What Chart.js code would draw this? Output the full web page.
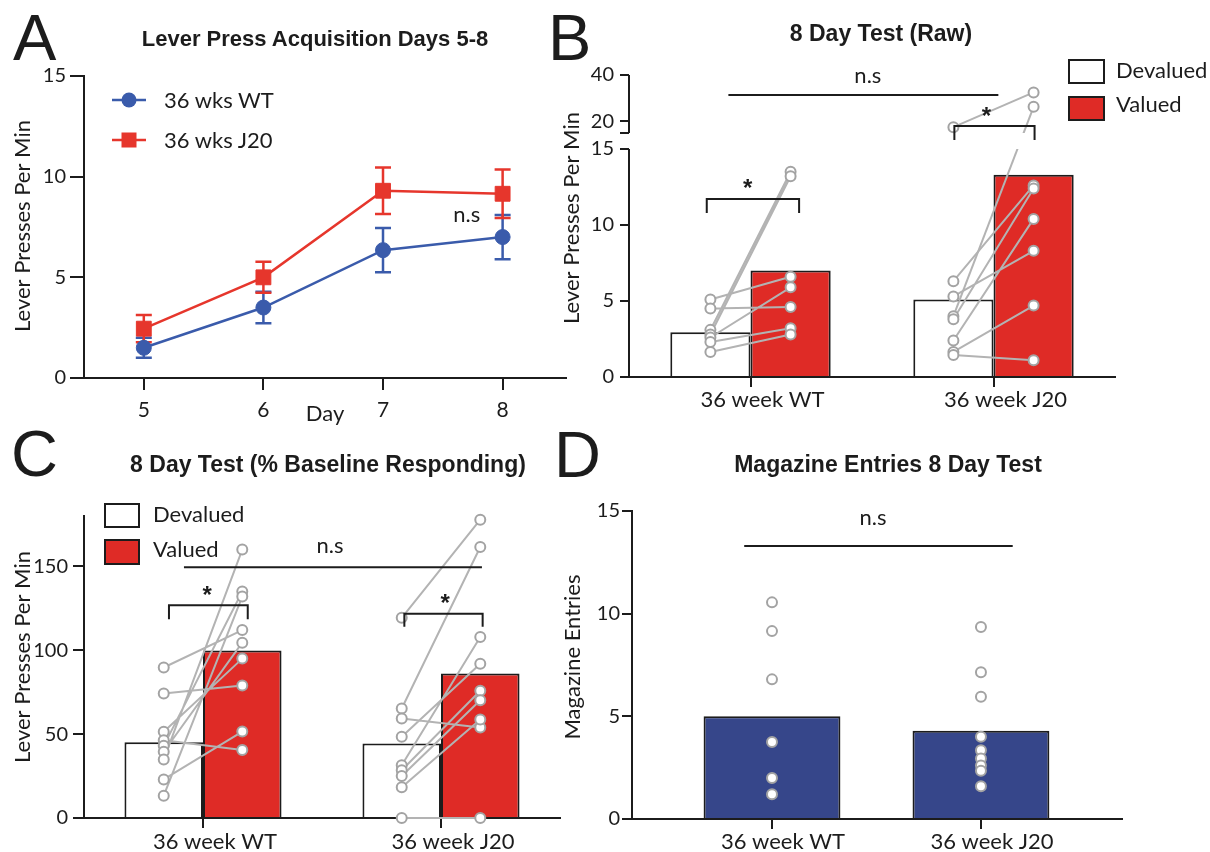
<!DOCTYPE html>
<html>
<head>
<meta charset="utf-8">
<title>Lever press figure</title>
<script src="https://cdn.jsdelivr.net/npm/chart.js@4.4.1/dist/chart.umd.min.js"></script>
<style>
  html, body { margin:0; padding:0; background:#ffffff; }
  #fig { position:relative; width:1210px; height:852px; overflow:hidden; background:#fff; }
  #fig canvas { position:absolute; left:0; top:0; }
  .t { position:absolute; white-space:nowrap; color:#1c1c1c; }
  .letter { font-family:"Liberation Sans", Arial, sans-serif; font-size:65px; line-height:65px; }
  .title { font-family:"Liberation Sans", Arial, sans-serif; font-weight:bold; transform:translateX(-50%); }
  .leg { font-family:Lato, sans-serif; font-size:22px; line-height:22px; }
  .box { position:absolute; box-sizing:border-box; border:2px solid #1c1c1c; }
</style>
</head>
<body>
<div id="fig">
  <canvas id="chartA" width="1210" height="852"></canvas>
  <canvas id="chartB" width="1210" height="852"></canvas>
  <canvas id="chartC" width="1210" height="852"></canvas>
  <canvas id="chartD" width="1210" height="852"></canvas>

  <div class="t letter" style="left:13px;top:5px">A</div>
  <div class="t letter" style="left:548px;top:5px">B</div>
  <div class="t letter" style="left:11px;top:421px">C</div>
  <div class="t letter" style="left:554px;top:422px">D</div>

  <div class="t title" style="left:315px;top:28px;font-size:22px;line-height:22px">Lever Press Acquisition Days 5-8</div>
  <div class="t title" style="left:881px;top:22px;font-size:23px;line-height:23px">8 Day Test (Raw)</div>
  <div class="t title" style="left:328px;top:453px;font-size:23px;line-height:23px">8 Day Test (% Baseline Responding)</div>
  <div class="t title" style="left:888px;top:453px;font-size:23px;line-height:23px">Magazine Entries 8 Day Test</div>

  <!-- legend A -->
  <svg style="position:absolute;left:110px;top:88px" width="40" height="64">
    <line x1="2" y1="12" x2="36" y2="12" stroke="#3a5bab" stroke-width="2.5"/>
    <circle cx="19" cy="12" r="7.5" fill="#3a5bab"/>
    <line x1="2" y1="52" x2="36" y2="52" stroke="#e6362c" stroke-width="2.5"/>
    <rect x="11.5" y="44.5" width="15" height="15" fill="#e6362c"/>
  </svg>
  <div class="t leg" style="left:164px;top:89px">36 wks WT</div>
  <div class="t leg" style="left:164px;top:129px">36 wks J20</div>

  <!-- legend B -->
  <div class="box" style="left:1068px;top:59px;width:37px;height:25px;background:#fff"></div>
  <div class="box" style="left:1068px;top:96px;width:37px;height:25px;background:#df2b26"></div>
  <div class="t leg" style="left:1116px;top:59px">Devalued</div>
  <div class="t leg" style="left:1116px;top:93px">Valued</div>

  <!-- legend C -->
  <div class="box" style="left:104px;top:503px;width:36px;height:25px;background:#fff"></div>
  <div class="box" style="left:104px;top:539px;width:36px;height:26px;background:#df2b26"></div>
  <div class="t leg" style="left:153px;top:503px">Devalued</div>
  <div class="t leg" style="left:153px;top:538px">Valued</div>
</div>

<script>
// ---------------- data ----------------
const groups = ['36 week WT', '36 week J20'];

// Panel A: acquisition (mean and SEM per day)
const days = [5, 6, 7, 8];
const acqTicks = [0, 5, 10, 15];
const acqWtMean = [1.5, 3.5, 6.35, 7.0];
const acqWtSem = [0.5, 0.78, 1.1, 1.1];
const acqJ20Mean = [2.45, 5.0, 9.3, 9.15];
const acqJ20Sem = [0.68, 0.77, 1.15, 1.2];

// Panel B: raw lever presses (pairs share an index)
const rawLowTicks = [0, 5, 10, 15];
const rawHighTicks = [15, 20, 40];
const rawDevaluedMean = [2.95, 5.1];
const rawValuedMean = [7.0, 13.3];
const rawWtDevalued = [5.1, 4.5, 3.1, 2.8, 2.6, 2.3, 1.65];
const rawWtValued   = [6.6, 4.6, 13.5, 13.2, 5.9, 3.2, 2.8];
const rawJ20Devalued = [17.5, 6.3, 5.3, 4.0, 3.8, 2.4, 1.65, 1.45];
const rawJ20Valued   = [32.5, 12.6, 8.3, 26.3, 12.4, 10.4, 4.7, 1.1];

// Panel C: % baseline responding
const pctTicks = [0, 50, 100, 150];
const pctDevaluedMean = [45.2, 44.4];
const pctValuedMean = [99.8, 86.2];
const pctWtDevalued = [89.7, 74.2, 51.4, 46.4, 43, 39.5, 34.9, 23, 13.3];
const pctWtValued   = [112, 79, 95, 40.5, 135, 104.5, 160, 51.5, 132];
const pctJ20Devalued = [119.3, 65.3, 59.3, 48.4, 31.5, 28.5, 25, 18.3, 0];
const pctJ20Valued   = [177.8, 161.5, 54, 92, 107.9, 75.8, 70.2, 58.7, 0];

// Panel D: magazine entries
const magTicks = [0, 5, 10, 15];
const magMean = [5.0, 4.3];
const magWt = [10.55, 9.15, 6.8, 3.75, 2.0, 1.2];
const magJ20 = [9.35, 7.15, 5.95, 4.0, 3.35, 2.95, 2.6, 2.35, 1.6];

// ---------------- style ----------------
const INK = '#1c1c1c';
const FONT = 'Lato, "Open Sans", sans-serif';
const RED = '#df2b26', RED_LINE = '#e6362c', BLUE = '#3a5bab', NAVY = '#36468a';
const DOT_EDGE = '#a3a3a3', PAIR_LINE = '#b3b3b3';
const CAT_PCT = 0.66;
const Q = CAT_PCT / 4;      // offset from category centre to each bar centre
const BREAK = 15;           // axis break in panel B

Chart.defaults.font.family = FONT;
Chart.defaults.font.size = 22;
Chart.defaults.color = INK;
Chart.defaults.animation = false;
Chart.defaults.responsive = false;
Chart.defaults.maintainAspectRatio = false;
Chart.defaults.events = [];
Chart.defaults.plugins.legend.display = false;
Chart.defaults.plugins.tooltip.enabled = false;

function merge(a, b) {
  const out = Object.assign({}, a);
  for (const k in b) {
    const v = b[k];
    if (v && typeof v === 'object' && !Array.isArray(v) && a[k] && typeof a[k] === 'object') out[k] = merge(a[k], v);
    else out[k] = v;
  }
  return out;
}
function fixedTicks(values) { return scale => { scale.ticks = values.map(v => ({ value: v })); }; }
function axisStyle(tickLength, padding, fontSize) {
  return {
    offset: false,
    border: { display: true, color: INK, width: 2 },
    grid: { display: true, drawOnChartArea: false, drawTicks: true, tickLength, color: INK, lineWidth: 2, offset: false },
    ticks: { padding, color: INK, font: { size: fontSize || 20, family: FONT }, maxRotation: 0, autoSkip: false }
  };
}
const pairStyle = {
  borderColor: PAIR_LINE, borderWidth: 2, pointRadius: 5, pointBorderWidth: 2,
  pointBackgroundColor: '#ffffff', pointBorderColor: DOT_EDGE, spanGaps: false, clip: false, tension: 0
};

// rotated y-axis titles
function yTitle(text, cx, cy) {
  return { id: 'ytitle', afterDraw(chart) {
    const c = chart.ctx; c.save(); c.translate(cx, cy); c.rotate(-Math.PI / 2);
    c.font = '22px ' + FONT; c.fillStyle = INK; c.textAlign = 'center'; c.textBaseline = 'middle';
    c.fillText(text, 0, 0); c.restore();
  } };
}
// significance marks, positioned in data units through the chart's scales
function annotations(items) {
  return { id: 'annot', afterDatasetsDraw(chart) {
    const c = chart.ctx, xs = chart.scales.x;
    c.save(); c.strokeStyle = INK; c.fillStyle = INK; c.lineWidth = 2;
    for (const it of items) {
      const ys = chart.scales[it.axis || 'y'];
      const X = v => xs.getPixelForValue(v), Y = v => ys.getPixelForValue(v);
      if (it.kind === 'line') {
        c.beginPath(); c.moveTo(X(it.x0), Y(it.y)); c.lineTo(X(it.x1), Y(it.y)); c.stroke();
      } else if (it.kind === 'bracket') {
        const y = Y(it.y);
        c.beginPath(); c.moveTo(X(it.x0), y + it.leg); c.lineTo(X(it.x0), y); c.lineTo(X(it.x1), y); c.lineTo(X(it.x1), y + it.leg); c.stroke();
      } else if (it.kind === 'text') {
        c.font = '22px ' + FONT; c.textAlign = 'center'; c.textBaseline = 'alphabetic';
        c.fillText(it.text, X(it.x), Y(it.y));
      } else if (it.kind === 'star') {
        c.font = 'bold 24px "Liberation Sans", Arial, sans-serif'; c.textAlign = 'center'; c.textBaseline = 'alphabetic';
        c.fillText('*', X(it.x), Y(it.y));
      }
    }
    c.restore();
  } };
}

// ---------------- Panel A ----------------
const errorBars = { id: 'errorBars', beforeDatasetsDraw(chart) {
  const c = chart.ctx, xs = chart.scales.x, ys = chart.scales.y;
  chart.data.datasets.forEach(ds => {
    if (!ds.sem) return;
    c.save(); c.strokeStyle = ds.borderColor; c.lineWidth = 2.5;
    ds.data.forEach((p, i) => {
      const x = xs.getPixelForValue(p.x);
      const lo = ys.getPixelForValue(p.y - ds.sem[i]), hi = ys.getPixelForValue(p.y + ds.sem[i]);
      c.beginPath(); c.moveTo(x, lo); c.lineTo(x, hi);
      c.moveTo(x - 8, lo); c.lineTo(x + 8, lo); c.moveTo(x - 8, hi); c.lineTo(x + 8, hi); c.stroke();
    });
    c.restore();
  });
} };

new Chart(document.getElementById('chartA'), {
  type: 'line',
  data: { datasets: [
    { label: '36 wks WT', data: days.map((d, i) => ({ x: d, y: acqWtMean[i] })), sem: acqWtSem,
      borderColor: BLUE, backgroundColor: BLUE, borderWidth: 2.5, pointStyle: 'circle', pointRadius: 7.5,
      pointBorderWidth: 1, pointBackgroundColor: BLUE, pointBorderColor: BLUE, clip: false, tension: 0 },
    { label: '36 wks J20', data: days.map((d, i) => ({ x: d, y: acqJ20Mean[i] })), sem: acqJ20Sem,
      borderColor: RED_LINE, backgroundColor: RED_LINE, borderWidth: 2.5, pointStyle: 'rect', pointRadius: 10.5,
      pointBorderWidth: 1, pointBackgroundColor: RED_LINE, pointBorderColor: RED_LINE, clip: false, tension: 0 }
  ] },
  options: {
    layout: { padding: { left: 8, top: 76, right: 644, bottom: 422 } },
    scales: {
      x: merge(axisStyle(12, 8, 21), { type: 'linear', min: 4.5, max: 8.53, afterBuildTicks: fixedTicks(days),
        afterFit: s => { s.height = 52; },
        title: { display: true, text: 'Day', color: INK, font: { size: 22, family: FONT }, padding: { top: 0, bottom: 3 } } }),
      y: merge(axisStyle(14, 4), { type: 'linear', min: 0, max: 15, afterBuildTicks: fixedTicks(acqTicks),
        afterFit: s => { s.width = 76; } })
    }
  },
  plugins: [errorBars, annotations([{ kind: 'text', text: 'n.s', x: 7.70, y: 7.75 }]), yTitle('Lever Presses Per Min', 23, 226)]
});

// ---------------- Panel B ----------------
function splitPairs(groupIdx, dev, val, out) {
  const xd = groupIdx - Q, xv = groupIdx + Q;
  dev.forEach((d, i) => {
    const v = val[i], dHi = d > BREAK, vHi = v > BREAK;
    if (dHi === vHi) {
      (dHi ? out.hi : out.lo).push({ x: xd, y: d }, { x: xv, y: v }, { x: xv, y: null });
    } else {
      out.cross.push({ xd, d, xv, v });
      (dHi ? out.hi : out.lo).push({ x: xd, y: d }, { x: xd, y: null });
      (vHi ? out.hi : out.lo).push({ x: xv, y: v }, { x: xv, y: null });
    }
  });
  return out;
}
const rawPairs = { lo: [], hi: [], cross: [] };
splitPairs(0, rawWtDevalued, rawWtValued, rawPairs);
splitPairs(1, rawJ20Devalued, rawJ20Valued, rawPairs);

const brokenAxis = { id: 'brokenAxis',
  afterDatasetDraw(chart, args) {
    if (args.index !== 0) return;           // right after the last bar dataset is drawn
    const c = chart.ctx, xs = chart.scales.x, lo = chart.scales.y, hi = chart.scales.yTop, a = chart.chartArea;
    const py = v => v > BREAK ? hi.getPixelForValue(v) : lo.getPixelForValue(v);
    c.save();
    c.beginPath();
    c.rect(a.left, 0, a.right - a.left, hi.bottom);
    c.rect(a.left, lo.getPixelForValue(BREAK), a.right - a.left, chart.height);
    c.clip();
    c.strokeStyle = PAIR_LINE; c.lineWidth = 2;
    rawPairs.cross.forEach(p => {
      c.beginPath(); c.moveTo(xs.getPixelForValue(p.xd), py(p.d)); c.lineTo(xs.getPixelForValue(p.xv), py(p.v)); c.stroke();
    });
    c.restore();
  },
  afterDraw(chart) {
    const c = chart.ctx, lo = chart.scales.y, hi = chart.scales.yTop, x = chart.chartArea.left;
    c.save(); c.strokeStyle = INK; c.lineWidth = 2; c.beginPath();
    c.moveTo(x, lo.getPixelForValue(0) + 1); c.lineTo(x, lo.getPixelForValue(BREAK));
    c.moveTo(x, hi.getPixelForValue(BREAK)); c.lineTo(x, hi.getPixelForValue(40));
    c.stroke(); c.restore();
  }
};

new Chart(document.getElementById('chartB'), {
  type: 'bar',
  data: { datasets: [
    { type: 'bar', label: 'Devalued', data: groups.map((g, i) => ({ x: i, y: rawDevaluedMean[i] })), yAxisID: 'y',
      backgroundColor: '#ffffff', borderColor: INK, borderWidth: 2, categoryPercentage: CAT_PCT, barPercentage: 1, order: 4 },
    { type: 'bar', label: 'Valued', data: groups.map((g, i) => ({ x: i, y: rawValuedMean[i] })), yAxisID: 'y',
      backgroundColor: RED, borderColor: INK, borderWidth: 2, categoryPercentage: CAT_PCT, barPercentage: 1, order: 5 },
    Object.assign({ type: 'line', label: 'pairs', data: rawPairs.lo, yAxisID: 'y', order: 2 }, pairStyle),
    Object.assign({ type: 'line', label: 'pairs above break', data: rawPairs.hi, yAxisID: 'yTop', order: 2 }, pairStyle)
  ] },
  options: {
    layout: { padding: { left: 589, top: 75, right: 95, bottom: 430 } },
    scales: {
      x: merge(axisStyle(10, 0, 22), { type: 'linear', min: -0.5, max: 1.5, afterBuildTicks: fixedTicks([0, 1]),
        ticks: { labelOffset: 12, callback: v => groups[v] }, afterFit: s => { s.height = 45; } }),
      y: merge(axisStyle(9, 6), { type: 'linear', position: 'left', min: 0, max: 16.05, stack: 'raw', stackWeight: 244,
        border: { display: false }, afterBuildTicks: fixedTicks(rawLowTicks), afterFit: s => { s.width = 40; } }),
      yTop: merge(axisStyle(9, 6), { type: 'linear', position: 'left', axis: 'y', min: BREAK, max: 40, stack: 'raw', stackWeight: 58,
        border: { display: false }, afterBuildTicks: fixedTicks(rawHighTicks),
        ticks: { callback: v => (v === BREAK ? '' : v) }, afterFit: s => { s.width = 40; } })
    }
  },
  plugins: [brokenAxis, annotations([
    { kind: 'line', x0: -0.091, x1: 1.02, y: 31.4, axis: 'yTop' },
    { kind: 'text', text: 'n.s', x: 0.483, y: 36.55, axis: 'yTop' },
    { kind: 'bracket', x0: -0.18, x1: 0.2, y: 11.71, leg: 14 },
    { kind: 'star', x: -0.012, y: 11.9 },
    { kind: 'bracket', x0: 0.839, x1: 1.169, y: 18.0, axis: 'yTop', leg: 14 },
    { kind: 'star', x: 0.971, y: 18.9, axis: 'yTop' }
  ]), yTitle('Lever Presses Per Min', 572, 218)]
});

// ---------------- Panel C ----------------
function pairLine(groupIdx, dev, val) {
  const out = [];
  dev.forEach((d, i) => out.push({ x: groupIdx - Q, y: d }, { x: groupIdx + Q, y: val[i] }, { x: groupIdx + Q, y: null }));
  return out;
}
new Chart(document.getElementById('chartC'), {
  type: 'bar',
  data: { datasets: [
    { type: 'bar', label: 'Devalued', data: groups.map((g, i) => ({ x: i, y: pctDevaluedMean[i] })),
      backgroundColor: '#ffffff', borderColor: INK, borderWidth: 2, categoryPercentage: CAT_PCT, barPercentage: 1, order: 4 },
    { type: 'bar', label: 'Valued', data: groups.map((g, i) => ({ x: i, y: pctValuedMean[i] })),
      backgroundColor: RED, borderColor: INK, borderWidth: 2, categoryPercentage: CAT_PCT, barPercentage: 1, order: 5 },
    Object.assign({ type: 'line', label: 'WT pairs', data: pairLine(0, pctWtDevalued, pctWtValued), order: 2 }, pairStyle),
    Object.assign({ type: 'line', label: 'J20 pairs', data: pairLine(1, pctJ20Devalued, pctJ20Valued), order: 1 }, pairStyle)
  ] },
  options: {
    layout: { padding: { left: 8, top: 516, right: 650, bottom: 0 } },
    scales: {
      x: merge(axisStyle(10, 1, 22), { type: 'linear', min: -0.5, max: 1.5, afterBuildTicks: fixedTicks([0, 1]),
        ticks: { labelOffset: 12, callback: v => groups[v] }, afterFit: s => { s.height = 34; } }),
      y: merge(axisStyle(11, 5), { type: 'linear', min: 0, max: 180, afterBuildTicks: fixedTicks(pctTicks),
        afterFit: s => { s.width = 76; } })
    }
  },
  plugins: [annotations([
    { kind: 'line', x0: -0.08, x1: 1.172, y: 149.4 },
    { kind: 'text', text: 'n.s', x: 0.534, y: 157.7 },
    { kind: 'bracket', x0: -0.143, x1: 0.188, y: 126.8, leg: 14 },
    { kind: 'star', x: 0.018, y: 128 },
    { kind: 'bracket', x0: 0.846, x1: 1.175, y: 121.8, leg: 13 },
    { kind: 'star', x: 1.017, y: 123.5 }
  ]), yTitle('Lever Presses Per Min', 23, 657)]
});

// ---------------- Panel D ----------------
new Chart(document.getElementById('chartD'), {
  type: 'bar',
  data: { datasets: [
    { type: 'bar', label: 'Magazine entries', data: groups.map((g, i) => ({ x: i, y: magMean[i] })),
      backgroundColor: NAVY, borderColor: INK, borderWidth: 2, categoryPercentage: 1, barPercentage: 0.655, order: 5 },
    Object.assign({ type: 'line', label: 'WT', data: magWt.map(v => ({ x: 0, y: v })), order: 1 }, pairStyle, { showLine: false }),
    Object.assign({ type: 'line', label: 'J20', data: magJ20.map(v => ({ x: 1, y: v })), order: 1 }, pairStyle, { showLine: false })
  ] },
  options: {
    layout: { padding: { left: 582, top: 511, right: 88, bottom: 0 } },
    scales: {
      x: merge(axisStyle(10, 0, 22), { type: 'linear', min: -0.67, max: 1.675, afterBuildTicks: fixedTicks([0, 1]),
        ticks: { labelOffset: 11, callback: v => groups[v] }, afterFit: s => { s.height = 33; } }),
      y: merge(axisStyle(10, 2), { type: 'linear', min: 0, max: 15, afterBuildTicks: fixedTicks(magTicks),
        afterFit: s => { s.width = 50; } })
    }
  },
  plugins: [annotations([
    { kind: 'line', x0: -0.133, x1: 1.152, y: 13.3 },
    { kind: 'text', text: 'n.s', x: 0.483, y: 14.34 }
  ]), yTitle('Magazine Entries', 573, 657)]
});
</script>
</body>
</html>
